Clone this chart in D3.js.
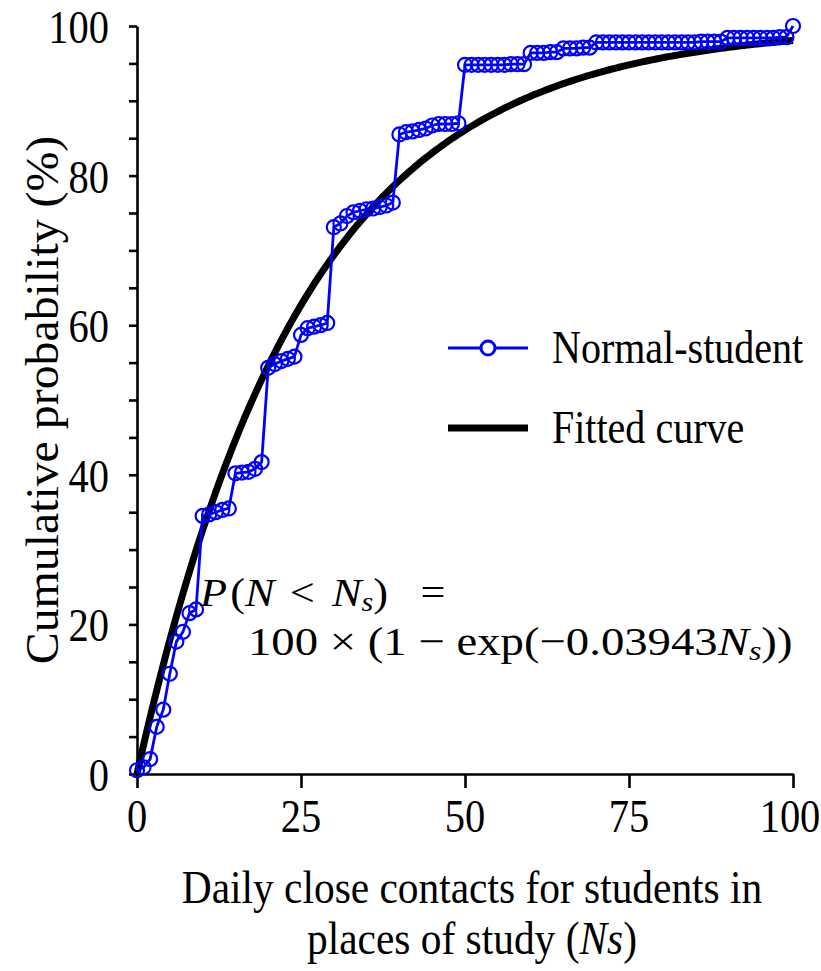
<!DOCTYPE html>
<html>
<head>
<meta charset="utf-8">
<script src="https://d3js.org/d3.v7.min.js"></script>
<style>
  body { margin: 0; background: #fff; }
  text { font-family: "Liberation Serif", "Times New Roman", serif; fill: #000; }
</style>
</head>
<body>
<svg width="821" height="971"></svg>
<script>
// daily close contacts (Ns) and cumulative probability (%)
var contacts = [
  0,1,2,3,4,5,6,7,8,9,10,11,12,13,14,15,16,17,18,19,
  20,21,22,23,24,25,26,27,28,29,30,31,32,33,34,35,36,37,38,39,
  40,41,42,43,44,45,46,47,48,49,50,51,52,53,54,55,56,57,58,59,
  60,61,62,63,64,65,66,67,68,69,70,71,72,73,74,75,76,77,78,79,
  80,81,82,83,84,85,86,87,88,89,90,91,92,93,94,95,96,97,98,99,100
];
var probability = [
  0.5,0.9,2.0,6.3,8.6,13.4,17.7,19.0,21.5,22.0,
  34.5,34.7,35.0,35.3,35.5,40.2,40.3,40.4,40.8,41.7,
  54.3,54.8,55.2,55.5,55.8,58.7,59.6,59.8,60.0,60.3,
  73.1,73.6,74.6,75.1,75.3,75.5,75.6,75.8,76.0,76.4,
  85.5,85.8,85.9,86.1,86.3,86.7,86.9,86.9,86.9,87.0,
  94.8,94.8,94.8,94.8,94.8,94.8,94.8,94.9,94.9,94.9,
  96.4,96.4,96.4,96.5,96.5,97.0,97.0,97.0,97.1,97.1,
  97.8,97.8,97.8,97.8,97.8,97.8,97.8,97.8,97.8,97.8,
  97.8,97.8,97.8,97.8,97.8,97.8,97.9,97.9,97.9,97.9,
  98.4,98.4,98.4,98.4,98.4,98.4,98.4,98.4,98.5,98.5,
  100.0
];
// fitted curve: P = 100 * (1 - exp(-k * Ns))
var fitRate = 0.03943;
var fitX = d3.range(0, 100.5, 0.5);

var xTicks = [0, 25, 50, 75, 100];
var yTicks = [0, 20, 40, 60, 80, 100];
var yMinor = d3.range(0, 101, 5);

var svg = d3.select("svg");
var x = d3.scaleLinear().domain([0, 100]).range([137, 793]);
var y = d3.scaleLinear().domain([0, 100]).range([774, 26]);
var FS = 46, SX = 0.88; // the original lettering is tall and a bit condensed

function label(g, px, py, str, size, anchor, sx) {
  return g.append("text")
    .attr("transform", "translate(" + px + "," + py + ") scale(" + (sx || SX) + ",1)")
    .attr("text-anchor", anchor || "middle")
    .attr("dominant-baseline", "central")
    .style("font-size", size + "px")
    .text(str);
}

// axes
var yAxis = d3.axisLeft(y).tickValues(yMinor).tickSize(8).tickSizeOuter(0).tickFormat("");
svg.append("g").attr("transform", "translate(137,0)").call(yAxis);
var xAxis = d3.axisBottom(x).tickValues(xTicks).tickSize(14).tickSizeOuter(0).tickFormat("");
svg.append("g").attr("transform", "translate(0,774)").call(xAxis);
svg.selectAll(".domain, .tick line").attr("stroke", "#000").attr("stroke-width", 2.6);

yTicks.forEach(function (v) { label(svg, 109, y(v) + 1, String(v), FS, "end"); });
xTicks.forEach(function (v) { label(svg, Math.min(x(v), 790), 816, String(v), FS); });

// axis titles
svg.append("text")
  .attr("transform", "translate(42,400) rotate(-90) scale(1.04,1)")
  .attr("text-anchor", "middle").attr("dominant-baseline", "central")
  .style("font-size", FS + "px").text("Cumulative probability (%)");
label(svg, 472, 887, "Daily close contacts for students in", FS, "middle", 0.9);
var t2 = label(svg, 472, 938, "", FS, "middle", 0.9);
t2.append("tspan").text("places of study (");
t2.append("tspan").style("font-style", "italic").text("Ns");
t2.append("tspan").text(")");

// fitted curve
var fitLine = d3.line().x(function (d) { return x(d); })
  .y(function (d) { return y(100 * (1 - Math.exp(-fitRate * d))); });
svg.append("path").datum(fitX).attr("d", fitLine)
  .attr("fill", "none").attr("stroke", "#000").attr("stroke-width", 7);

// empirical data
var pts = contacts.map(function (c, i) { return [c, probability[i]]; });
var dataLine = d3.line().x(function (d) { return x(d[0]); }).y(function (d) { return y(d[1]); });
svg.append("path").datum(pts).attr("d", dataLine)
  .attr("fill", "none").attr("stroke", "#0000ff").attr("stroke-width", 2.8);
svg.append("g").selectAll("circle").data(pts).enter().append("circle")
  .attr("cx", function (d) { return x(d[0]); })
  .attr("cy", function (d) { return y(d[1]); })
  .attr("r", 7).attr("fill", "none").attr("stroke", "#0000ff").attr("stroke-width", 2.2);

// legend
svg.append("line").attr("x1", 448).attr("x2", 528).attr("y1", 348).attr("y2", 348)
  .attr("stroke", "#0000ff").attr("stroke-width", 3);
svg.append("circle").attr("cx", 488).attr("cy", 348).attr("r", 7)
  .attr("fill", "#fff").attr("stroke", "#0000ff").attr("stroke-width", 3);
label(svg, 552, 348, "Normal-student", FS, "start", 0.87);
svg.append("line").attr("x1", 448).attr("x2", 528).attr("y1", 428).attr("y2", 428)
  .attr("stroke", "#000").attr("stroke-width", 7);
label(svg, 552, 428, "Fitted curve", FS, "start", 0.87);

// equation
var eq1 = svg.append("text").attr("transform", "translate(200,592) scale(1.08,1)")
  .attr("dominant-baseline", "central").style("font-size", "41px");
eq1.append("tspan").style("font-style", "italic").text("P");
eq1.append("tspan").attr("dx", 3).text("(");
eq1.append("tspan").style("font-style", "italic").text("N");
eq1.append("tspan").attr("dx", 14).text("<");
eq1.append("tspan").attr("dx", 16).style("font-style", "italic").text("N");
eq1.append("tspan").style("font-style", "italic").style("font-size", "28px").attr("dy", 9).text("s");
eq1.append("tspan").attr("dy", -9).text(")");
eq1.append("tspan").attr("dx", 30).text("=");

var eq2 = svg.append("text").attr("transform", "translate(248,641) scale(1.14,1)")
  .attr("dominant-baseline", "central").style("font-size", "41px");
eq2.append("tspan").text("100 × (1 − exp(−0.03943");
eq2.append("tspan").style("font-style", "italic").text("N");
eq2.append("tspan").style("font-style", "italic").style("font-size", "28px").attr("dy", 9).text("s");
eq2.append("tspan").attr("dy", -9).text("))");
</script>
</body>
</html>
